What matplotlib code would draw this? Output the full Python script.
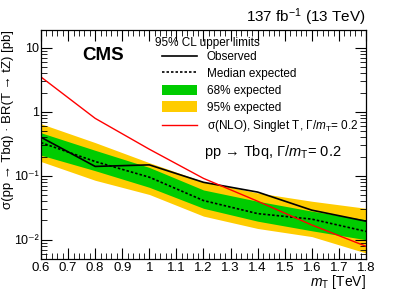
import matplotlib
matplotlib.use("Agg")
import matplotlib.pyplot as plt
from matplotlib.ticker import MultipleLocator, LogLocator, NullFormatter, FixedLocator
from matplotlib.patches import Patch
from matplotlib.lines import Line2D

plt.rcParams['font.family'] = ['Liberation Sans', 'DejaVu Sans']
plt.rcParams['mathtext.fontset'] = 'custom'
plt.rcParams['mathtext.it'] = 'Liberation Sans:italic'
plt.rcParams['mathtext.rm'] = 'Liberation Sans'

mass = [0.6, 0.8, 1.0, 1.2, 1.4, 1.6, 1.8]
observed = [0.40, 0.14, 0.148, 0.079, 0.0556, 0.029, 0.0195]
expected = [0.33, 0.167, 0.095, 0.041, 0.0256, 0.021, 0.0135]
exp68_lo = [0.21, 0.12, 0.066, 0.031, 0.0195, 0.0138, 0.0100]
exp68_hi = [0.47, 0.25, 0.135, 0.060, 0.040, 0.028, 0.0205]
exp95_lo = [0.167, 0.085, 0.051, 0.0234, 0.015, 0.0112, 0.0062]
exp95_hi = [0.65, 0.33, 0.16, 0.081, 0.054, 0.040, 0.031]
theory = [3.5, 0.79, 0.26, 0.091, 0.040, 0.017, 0.0079]
xtick_vals = [0.6, 0.7, 0.8, 0.9, 1.0, 1.1, 1.2, 1.3, 1.4, 1.5, 1.6, 1.7, 1.8]
ytick_vals = [0.01, 0.1, 1, 10]
ytick_labels = ['10⁻²', '10⁻¹', '1', '10']

fig = plt.figure(figsize=(4.07, 2.92), dpi=100)
ax = fig.add_axes([41/407, 33/292, 325/407, 229/292])

ax.fill_between(mass, exp95_lo, exp95_hi, color='#ffcc00', lw=0)
ax.fill_between(mass, exp68_lo, exp68_hi, color='#00cc00', lw=0)
ax.plot(mass, expected, color='black', ls=(0, (1.5, 1.2)), lw=1.2)
ax.plot(mass, observed, color='black', lw=1.2)
ax.plot(mass, theory, color='#ff0000', lw=1.0)

ax.set_yscale('log')
ax.set_xlim(0.6, 1.8)
ax.set_ylim(0.005, 19)
ax.set_xticks(xtick_vals)
ax.set_xticklabels([f"{v:g}" for v in xtick_vals])
ax.xaxis.set_minor_locator(MultipleLocator(0.02))
ax.yaxis.set_major_locator(FixedLocator(ytick_vals))
ax.set_yticklabels(ytick_labels)
ax.yaxis.set_minor_locator(LogLocator(base=10, subs=range(2, 10)))
ax.yaxis.set_minor_formatter(NullFormatter())
ax.tick_params(which='both', direction='in', top=True, right=True)
ax.tick_params(axis='x', labelsize=9.5, pad=2)
ax.tick_params(axis='y', labelsize=9.0, pad=1.5)
ax.tick_params(which='major', length=8, width=0.8)
ax.tick_params(which='minor', length=4, width=0.6)
for s in ax.spines.values():
    s.set_linewidth(0.9)

ax.set_xlabel(r'$m_{\mathrm{T}}$ [TeV]', fontsize=10, ha='right', va='center')
ax.xaxis.set_label_coords(1.0, -(282 - 259) / 229)
ax.set_ylabel(r'σ(pp → Tbq) · BR(T → tZ) [pb]', fontsize=9.5, ha='right', va='center')
ax.yaxis.set_label_coords(-(41 - 8) / 325, 1.0)

fig.text(366/407, 1 - 17/292, r'137 fb$^{-1}$ (13 TeV)', ha='right', va='center', fontsize=11)
fig.text(82/407, 1 - 55/292, 'CMS', fontsize=13.5, fontweight='bold', va='center', ha='left')
fig.text(155/407, 1 - 43/292, '95% CL upper limits', fontsize=8.5, va='center', ha='left')

handles = [
    Line2D([], [], color='black', lw=1.2),
    Line2D([], [], color='black', lw=1.2, ls=(0, (1.5, 1.2))),
    Patch(facecolor='#00cc00', edgecolor='none'),
    Patch(facecolor='#ffcc00', edgecolor='none'),
    Line2D([], [], color='#ff0000', lw=1.0),
]
labels = ['Observed', 'Median expected', '68% expected', '95% expected',
          r'σ(NLO), Singlet T, Γ/$m_{\mathrm{T}}$= 0.2']
leg = fig.legend(handles, labels, loc='upper left', bbox_to_anchor=(162/407, 1 - 51/292),
                 frameon=False, fontsize=8.5, handlelength=3.0, handleheight=1.0,
                 labelspacing=0.38, handletextpad=0.8, borderaxespad=0, borderpad=0)

fig.text(204/407, 1 - 152/292, r'pp → Tbq, Γ/$m_{\mathrm{T}}$= 0.2', fontsize=10.5, va='center', ha='left')

fig.savefig('out.png', dpi=100)
